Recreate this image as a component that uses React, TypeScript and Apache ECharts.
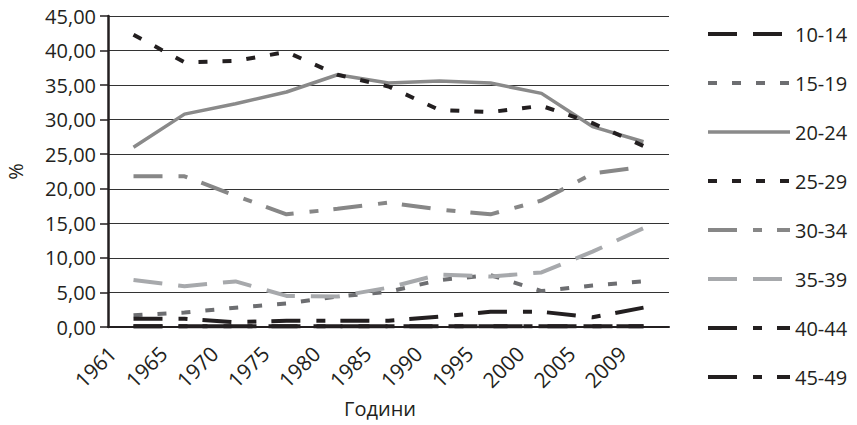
import React, { useEffect, useRef } from "react";
import * as echarts from "echarts";

const years = ["1961", "1965", "1970", "1975", "1980", "1985", "1990", "1995", "2000", "2005", "2009"];
const groups = ["10-14", "15-19", "20-24", "25-29", "30-34", "35-39", "40-44", "45-49"];

const s10_14 = [0.1, 0.1, 0.1, 0.1, 0.1, 0.1, 0.1, 0.1, 0.1, 0.1, 0.1];
const s15_19 = [1.7, 2.1, 2.8, 3.4, 4.4, 5.1, 6.8, 7.5, 5.2, 6.0, 6.6];
const s20_24 = [26.0, 30.8, 32.3, 34.0, 36.5, 35.3, 35.6, 35.3, 33.8, 29.0, 26.8];
const s25_29 = [42.3, 38.3, 38.5, 39.8, 36.5, 34.8, 31.4, 31.1, 32.0, 29.5, 26.2];
const s30_34 = [21.8, 21.8, 19.0, 16.3, 17.1, 18.0, 17.0, 16.3, 18.3, 22.2, 23.2];
const s35_39 = [6.8, 5.9, 6.6, 4.5, 4.4, 5.7, 7.6, 7.3, 7.9, 10.9, 14.3];
const s40_44 = [1.2, 1.2, 0.7, 0.9, 0.9, 0.9, 1.5, 2.2, 2.2, 1.4, 2.8];
const s45_49 = [0.1, 0.1, 0.1, 0.1, 0.1, 0.1, 0.1, 0.1, 0.1, 0.1, 0.1];

const yTicks = { min: 0, max: 45, interval: 5 };

const DARK = "#231f20";
const FONT = "Open Sans";

const styles = [
  { color: DARK, type: [29, 16], width: 4 },
  { color: "#6d6e71", type: [9, 15], width: 4 },
  { color: "#8a8a8a", type: "solid", width: 3.5 },
  { color: DARK, type: [9, 15], width: 4 },
  { color: "#878787", type: [29, 16, 9, 15], width: 4 },
  { color: "#a7a9ac", type: [29, 16], width: 4 },
  { color: DARK, type: [29, 16, 9, 15], width: 4 },
  { color: DARK, type: [29, 16, 9, 15], width: 4 },
];

const seriesData = [s10_14, s15_19, s20_24, s25_29, s30_34, s35_39, s40_44, s45_49];

export default function App() {
  const ref = useRef<HTMLDivElement>(null);
  useEffect(() => {
    if (!ref.current) return;
    const chart = echarts.init(ref.current, null, { renderer: "svg" });
    chart.setOption({
      animation: false,
      backgroundColor: "#ffffff",
      textStyle: { fontFamily: FONT },
      grid: { left: 108, right: 188, top: 16, bottom: 98, containLabel: false, outerBoundsMode: "none" },
      legend: {
        orient: "vertical",
        left: 706,
        top: 24,
        padding: 0,
        itemWidth: 82,
        itemHeight: 14,
        itemGap: 29,
        itemStyle: { opacity: 0 },
        data: groups.map((g, i) => ({
          name: g,
          itemStyle: { opacity: 0 },
          lineStyle: { color: styles[i].color, type: styles[i].type, width: styles[i].width, cap: "butt" },
        })),
        textStyle: { fontSize: 20, color: DARK, fontFamily: FONT, lineHeight: 20 },
      },
      xAxis: [
        {
          type: "category",
          data: years,
          boundaryGap: true,
          axisLine: { show: true, lineStyle: { color: DARK, width: 2 } },
          axisTick: { show: false },
          axisLabel: { show: false },
          splitLine: { show: false },
        },
        {
          type: "category",
          data: [...years, ""],
          boundaryGap: false,
          position: "bottom",
          axisLine: { show: false },
          axisTick: { show: false },
          splitLine: { show: false },
          axisLabel: {
            rotate: 45,
            interval: 0,
            fontSize: 21,
            color: DARK,
            fontFamily: FONT,
            margin: 27,
            padding: [0, -6, 0, 0],
          },
          name: "Години",
          nameLocation: "middle",
          nameGap: 70,
          nameTextStyle: { fontSize: 20, color: DARK, fontFamily: FONT, padding: [0, 17, 0, 0] },
        },
      ],
      yAxis: {
        type: "value",
        min: yTicks.min,
        max: yTicks.max,
        interval: yTicks.interval,
        name: "%",
        nameLocation: "middle",
        nameGap: 83,
        nameTextStyle: { fontSize: 20, color: DARK, fontFamily: FONT },
        axisLine: { show: true, lineStyle: { color: DARK, width: 2.5 } },
        axisTick: { show: true, length: 8, lineStyle: { color: DARK, width: 1.5 } },
        axisLabel: {
          fontSize: 20,
          color: DARK,
          fontFamily: FONT,
          margin: 12,
          formatter: (v: number) => v.toFixed(2).replace(".", ","),
        },
        splitLine: { show: true, lineStyle: { color: "#333333", width: 1 } },
      },
      series: groups.map((g, i) => ({
        name: g,
        type: "line",
        xAxisIndex: 0,
        data: seriesData[i],
        symbol: "none",
        showSymbol: false,
        color: styles[i].color,
        lineStyle: { color: styles[i].color, type: styles[i].type, width: styles[i].width, cap: "butt" },
      })),
    });
    return () => chart.dispose();
  }, []);
  return <div ref={ref} style={{ width: 857, height: 425, position: "absolute", left: 0, top: 0 }} />;
}
